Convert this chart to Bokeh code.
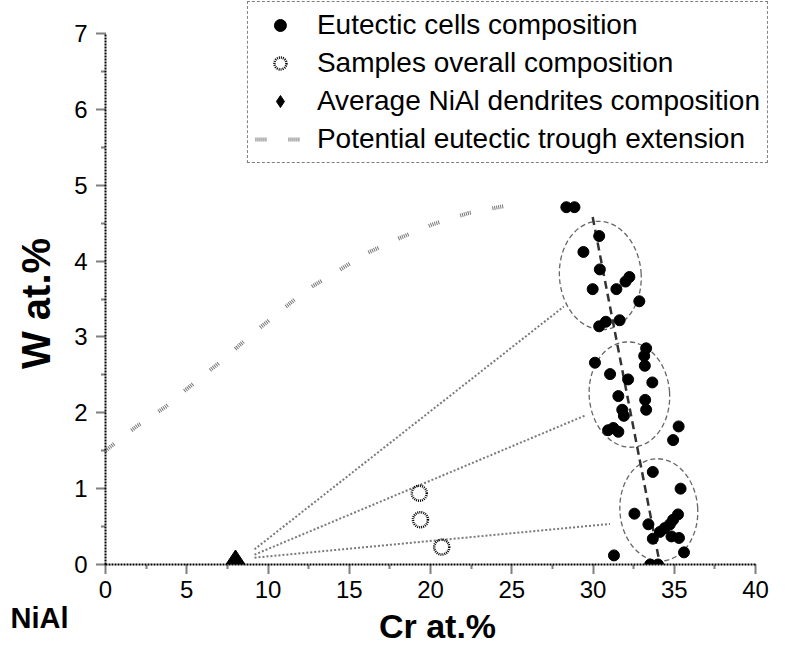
import math
from bokeh.plotting import figure
from bokeh.models import Range1d, FixedTicker, Legend, LegendItem, Label
from bokeh.embed import file_html
from bokeh.resources import INLINE

# ---------------- data ----------------
cells_cr = [28.36, 28.86, 30.38, 29.41, 30.42, 29.98, 31.44, 32.00, 32.24, 32.85, 30.38, 30.79, 31.64,
            33.27, 33.15, 33.19, 30.12, 31.05, 32.16, 33.65, 31.56, 33.21, 33.27, 31.80, 31.90, 30.93,
            31.25, 31.56, 35.27, 34.93,
            33.68, 35.39, 32.55, 33.41, 35.23, 34.93, 34.73, 34.42, 34.12, 33.68, 34.83, 35.29, 35.60,
            31.29, 33.52, 34.00]
cells_w = [4.71, 4.71, 4.33, 4.12, 3.89, 3.63, 3.63, 3.73, 3.79, 3.47, 3.14, 3.20, 3.22,
           2.85, 2.75, 2.62, 2.66, 2.51, 2.44, 2.40, 2.22, 2.17, 2.04, 2.04, 1.96, 1.77,
           1.80, 1.75, 1.82, 1.64,
           1.22, 1.00, 0.67, 0.53, 0.66, 0.59, 0.53, 0.48, 0.43, 0.34, 0.37, 0.35, 0.16,
           0.12, 0.00, 0.00]

samples_cr = [19.31, 19.38, 20.69]
samples_w = [0.94, 0.59, 0.23]

nial_cr = [8.0]
nial_w = [0.0]

trough_cr = [29.98, 34.12]
trough_w = [4.58, 0.00]

ext_cr = [0.0, 1.9, 3.7, 5.43, 7.25, 8.87, 10.59, 12.3, 14.22, 16.14, 18.06, 20.2, 22.3, 24.4, 25.2]
ext_w = [1.50, 1.82, 2.08, 2.39, 2.70, 3.01, 3.31, 3.61, 3.86, 4.11, 4.30, 4.49, 4.63, 4.72, 4.75]

tie_start_cr = [9.17, 9.17, 9.17]
tie_start_w = [0.20, 0.13, 0.09]
tie_end_cr = [28.20, 29.58, 31.05]
tie_end_w = [3.40, 1.97, 0.535]

ell_cr = [30.45, 32.24, 34.05]
ell_w = [3.81, 2.24, 0.72]
ell_width = [5.03, 4.95, 4.79]
ell_height = [1.43, 1.39, 1.35]

x_ticks = [0, 5, 10, 15, 20, 25, 30, 35, 40]
x_minor = [2.5, 7.5, 12.5, 17.5, 22.5, 27.5, 32.5, 37.5]
y_ticks = [0, 1, 2, 3, 4, 5, 6, 7]
y_minor = [0.5, 1.5, 2.5, 3.5, 4.5, 5.5, 6.5]

legend_labels = ["Eutectic cells composition", "Samples overall composition",
                 "Average NiAl dendrites composition", "Potential eutectic trough extension"]
x_title = "Cr at.%"
y_title = "W at.%"
corner_label = "NiAl"

FONT = "Liberation Sans"

# Whole canvas is the plotting frame; the axes are pinned at Cr = 0 and W = 0.
# pixel layout: Cr 0 -> 105 px, Cr 40 -> 755 px ; W 0 -> 564 px, W 7 -> 33 px
W, H = 769, 648
X0_PX, X40_PX, Y0_PX, Y7_PX = 105, 755, 564, 33
px_x = (X40_PX - X0_PX) / 40.0
px_y = (Y0_PX - Y7_PX) / 7.0
x_start, x_end = -X0_PX / px_x, (W - X0_PX) / px_x
y_start, y_end = -(H - Y0_PX) / px_y, Y0_PX / px_y

p = figure(width=W, height=H,
           x_range=Range1d(x_start, x_end), y_range=Range1d(y_start, y_end),
           output_backend="svg", toolbar_location=None,
           min_border=0, min_border_left=0, min_border_right=0,
           min_border_top=0, min_border_bottom=0)
p.outline_line_color = None
p.grid.visible = False
p.background_fill_color = "white"
p.border_fill_color = "white"

# tie lines
p.segment(x0=tie_start_cr, y0=tie_start_w, x1=tie_end_cr, y1=tie_end_w,
          line_color="#7a7a7a", line_width=2, line_dash="2 2")

# ellipses
p.ellipse(x=ell_cr, y=ell_w, width=ell_width, height=ell_height, angle=0.07,
          fill_color=None, line_color="#666666", line_width=1.3, line_dash="5 3")

# eutectic trough
p.line(trough_cr, trough_w, line_color="#333333", line_width=2.5, line_dash="8 5")

# potential extension
r_ext = p.line(ext_cr, ext_w, line_color="#777777", line_width=4,
               line_dash="1 1 1 1 1 1 1 1 1 1 1 22")

r_cells = p.scatter(cells_cr, cells_w, marker="circle", size=11,
                    fill_color="black", line_color="black")
r_samples = p.scatter(samples_cr, samples_w, marker="circle", size=15,
                      fill_color=None, line_color="black", line_width=2.5, line_dash="1 1")
r_nial = p.scatter(nial_cr, nial_w, marker="diamond", size=29,
                   fill_color="black", line_color="black")

# white mask below W = 0 (marks sitting on the axis are cut in half, as in the original)
p.block(x=[x_start], y=[y_start], width=[x_end - x_start], height=[-y_start],
        fill_color="white", line_color=None)

legend = Legend(items=[LegendItem(label=legend_labels[0], renderers=[r_cells]),
                       LegendItem(label=legend_labels[1], renderers=[r_samples]),
                       LegendItem(label=legend_labels[2], renderers=[r_nial]),
                       LegendItem(label=legend_labels[3], renderers=[r_ext])],
                location="top_right", margin=1, padding=7, spacing=6,
                glyph_width=50, glyph_height=30, label_height=30, label_standoff=12,
                label_text_font=FONT, label_text_font_size="28px", label_text_color="black",
                border_line_color="black", border_line_width=1, border_line_dash="1 1",
                background_fill_color="white", background_fill_alpha=1.0)
p.add_layout(legend)

# axes pinned inside the frame
for ax, ticks, minor in ((p.xaxis[0], x_ticks, x_minor), (p.yaxis[0], y_ticks, y_minor)):
    ax.fixed_location = 0
    ax.ticker = FixedTicker(ticks=ticks, minor_ticks=minor)
    ax.axis_line_color = "black"
    ax.axis_line_width = 2
    ax.axis_line_dash = "2 1"
    ax.major_tick_line_color = "black"
    ax.major_tick_line_width = 2
    ax.major_tick_line_dash = "1 1"
    ax.major_tick_in = 0
    ax.major_tick_out = 9
    ax.minor_tick_line_color = "black"
    ax.minor_tick_line_width = 2
    ax.minor_tick_line_dash = "1 1"
    ax.minor_tick_in = 0
    ax.minor_tick_out = 4
    ax.major_label_text_font = FONT
    ax.major_label_text_font_size = "24px"
    ax.major_label_text_color = "black"

p.xaxis.bounds = (0, 40)
p.yaxis.bounds = (0, 7)
p.xaxis.major_label_standoff = 7
p.yaxis.major_label_standoff = 9

# titles (screen px from the canvas' lower-left corner, which is the frame's corner here)
p.add_layout(Label(x=437, y=H - 625, x_units="screen", y_units="screen", text=x_title,
                   text_font=FONT, text_font_style="bold", text_font_size="34px",
                   text_baseline="middle", text_align="center", text_color="black"))
p.add_layout(Label(x=35, y=H - 303, x_units="screen", y_units="screen", text=y_title,
                   angle=math.pi / 2,
                   text_font=FONT, text_font_style="bold", text_font_size="40px",
                   text_baseline="middle", text_align="center", text_color="black"))
p.add_layout(Label(x=10, y=H - 617, x_units="screen", y_units="screen", text=corner_label,
                   text_font=FONT, text_font_style="bold", text_font_size="29px",
                   text_baseline="middle", text_align="left", text_color="black"))

open("out.html", "w").write(file_html(p, INLINE))
